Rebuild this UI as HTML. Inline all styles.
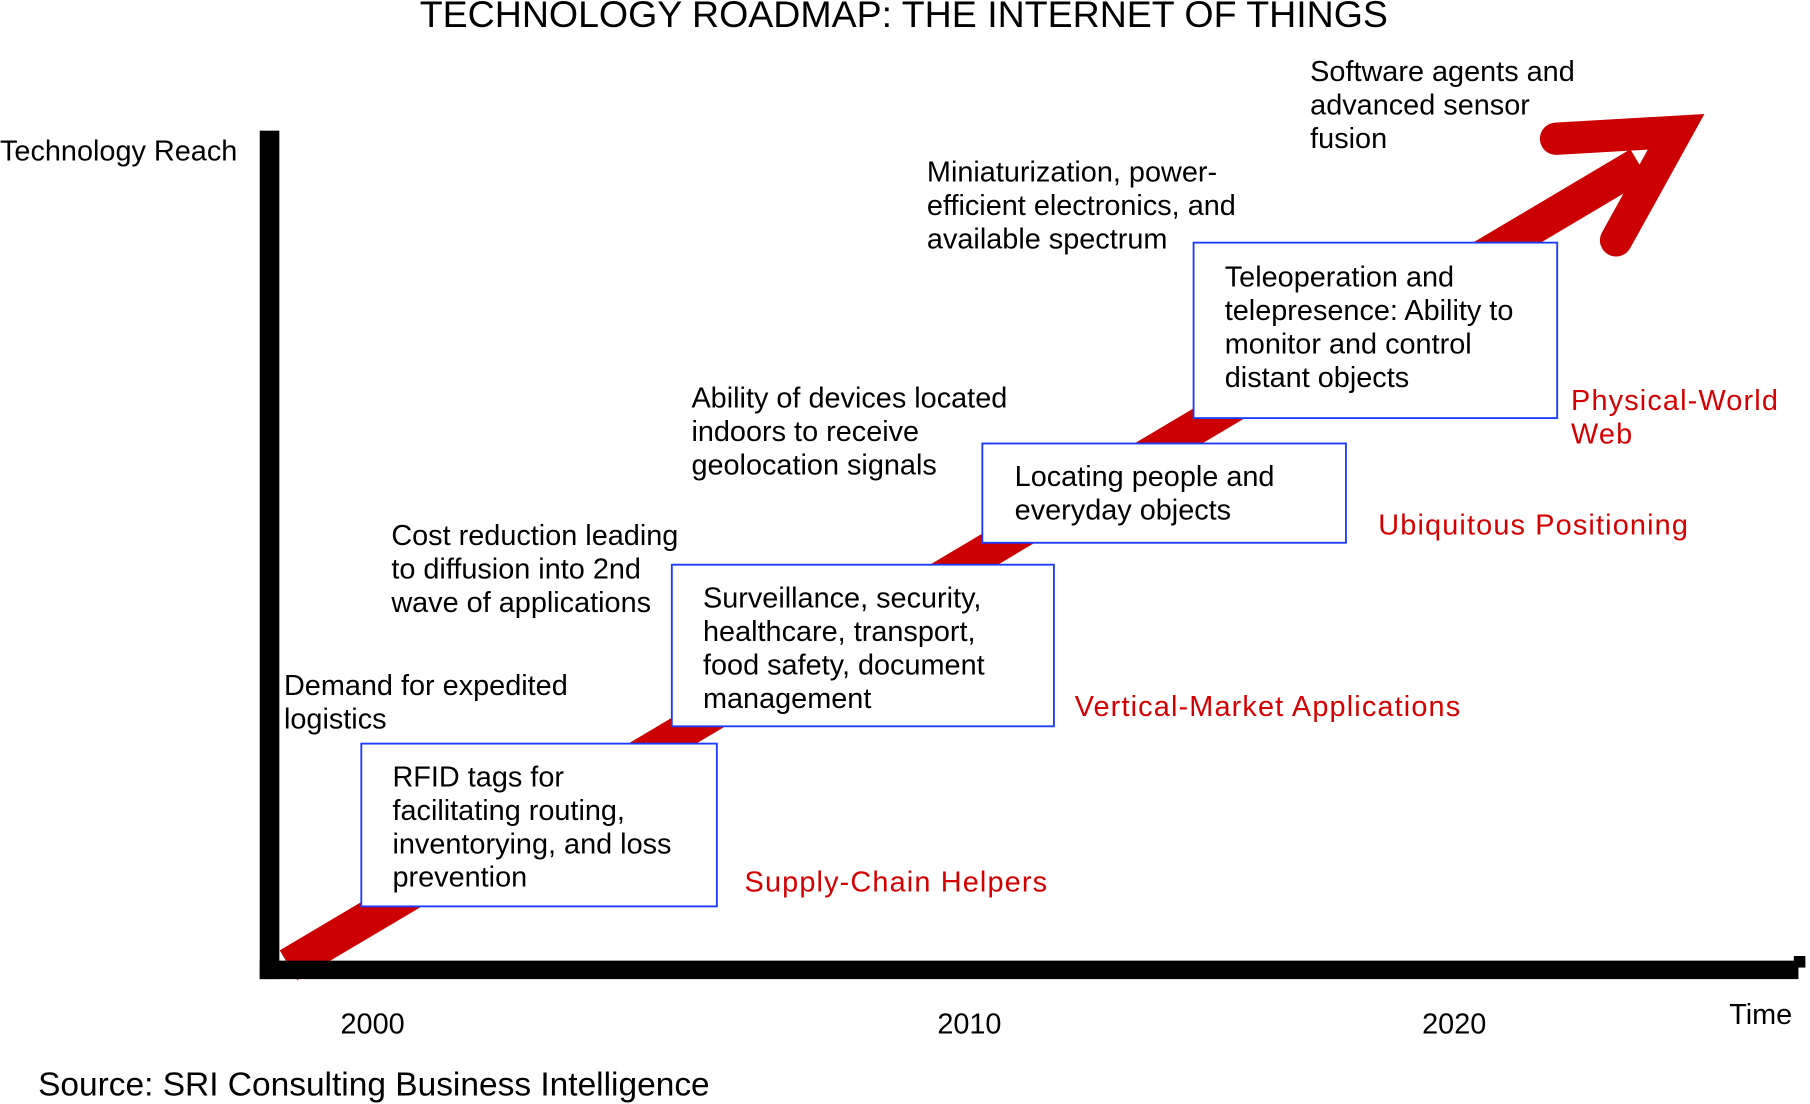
<!DOCTYPE html>
<html><head><meta charset="utf-8"><style>
html,body{margin:0;padding:0;background:#fff;}
svg{display:block;}
text{font-family:"Liberation Sans",Arial,sans-serif;fill:#000;}
.r{fill:#d40000;letter-spacing:1px;}
</style></head><body>
<svg width="1810" height="1104" viewBox="0 0 1568 956" xmlns="http://www.w3.org/2000/svg">
<rect width="1568" height="956" fill="#fff"/>
<text x="783" y="23" font-size="32.5" text-anchor="middle">TECHNOLOGY ROADMAP: THE INTERNET OF THINGS</text>
<!-- red band -->
<line x1="250" y1="836" x2="1420" y2="142" stroke="#cc0000" stroke-width="30"/>
<polyline points="1348,120 1452,114 1400,208" fill="none" stroke="#cc0000" stroke-width="28" stroke-linecap="round" stroke-linejoin="miter"/>
<!-- axes -->
<rect x="225" y="113" width="17" height="735" fill="#000"/>
<rect x="225" y="832" width="1333" height="16" fill="#000"/>
<rect x="1554" y="828" width="10" height="10" fill="#000"/>
<!-- boxes -->
<g fill="#fff" stroke="#1a3cff" stroke-width="1.6">
<rect x="313" y="644" width="308" height="141"/>
<rect x="582" y="489" width="331" height="140"/>
<rect x="851" y="384" width="315" height="86"/>
<rect x="1034" y="210" width="315" height="152"/>
</g>
<g font-size="25">
<text x="340" y="681">RFID tags for</text>
<text x="340" y="710">facilitating routing,</text>
<text x="340" y="739">inventorying, and loss</text>
<text x="340" y="768">prevention</text>
<text x="609" y="526">Surveillance, security,</text>
<text x="609" y="555">healthcare, transport,</text>
<text x="609" y="584">food safety,  document</text>
<text x="609" y="613">management</text>
<text x="879" y="421">Locating people and</text>
<text x="879" y="450">everyday objects</text>
<text x="1061" y="248">Teleoperation and</text>
<text x="1061" y="277">telepresence: Ability to</text>
<text x="1061" y="306">monitor and control</text>
<text x="1061" y="335">distant objects</text>
<text x="246" y="602">Demand for expedited</text>
<text x="246" y="631">logistics</text>
<text x="339" y="472">Cost reduction leading</text>
<text x="339" y="501">to diffusion into 2nd</text>
<text x="339" y="530">wave of applications</text>
<text x="599" y="353">Ability of devices located</text>
<text x="599" y="382">indoors to receive</text>
<text x="599" y="411">geolocation signals</text>
<text x="803" y="157">Miniaturization, power-</text>
<text x="803" y="186">efficient electronics, and</text>
<text x="803" y="215">available spectrum</text>
<text x="1135" y="70">Software agents and</text>
<text x="1135" y="99">advanced sensor</text>
<text x="1135" y="128">fusion</text>
<text class="r" x="645" y="772">Supply-Chain Helpers</text>
<text class="r" x="931" y="620">Vertical-Market Applications</text>
<text class="r" x="1194" y="463">Ubiquitous Positioning</text>
<text class="r" x="1361" y="355">Physical-World</text>
<text class="r" x="1361" y="384">Web</text>
</g>
<g font-size="25">
<text x="0" y="139">Technology Reach</text>
<text x="1498" y="887">Time</text>
<text x="295" y="895">2000</text>
<text x="812" y="895">2010</text>
<text x="1232" y="895">2020</text>
</g>
<text x="33" y="949" font-size="29">Source: SRI Consulting Business Intelligence</text>
</svg>
</body></html>
